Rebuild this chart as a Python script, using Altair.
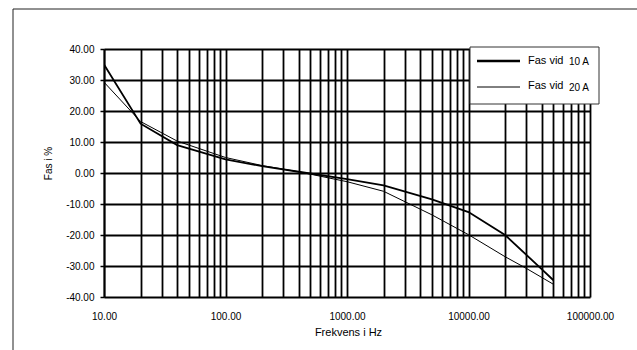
import altair as alt
import pandas as pd

# ---- data ----
freq_10A = [10, 20, 40, 100, 200, 400, 1000, 2000, 5000, 10000, 20000, 40000, 50000]
fas_10A = [35.0, 15.9, 9.0, 4.4, 2.2, 0.4, -2.0, -4.0, -8.5, -12.6, -20.0, -31.0, -34.6]
freq_20A = [10, 20, 40, 100, 200, 400, 1000, 2000, 5000, 10000, 20000, 30000, 50000]
fas_20A = [29.3, 16.6, 10.3, 5.0, 2.4, 0.4, -2.8, -5.9, -13.5, -19.9, -27.0, -30.8, -35.9]

series_names = ["Fas vid", "Fas vid"]
series_units = ["10 A", "20 A"]

y_ticks = [-40, -30, -20, -10, 0, 10, 20, 30, 40]
decades = [10, 100, 1000, 10000, 100000]
x_ticks = [m * d for d in decades[:-1] for m in range(1, 10)] + [100000]

df = pd.concat([
    pd.DataFrame({"f": freq_10A, "v": fas_10A, "s": "10 A"}),
    pd.DataFrame({"f": freq_20A, "v": fas_20A, "s": "20 A"}),
])

W, H = 486, 248
FONT = "Liberation Sans"

x_enc = alt.X("f:Q", scale=alt.Scale(type="log", domain=[10, 100000], nice=False),
              axis=alt.Axis(values=x_ticks, grid=True, gridColor="black", gridWidth=1.8,
                            gridOpacity=1, ticks=False, domain=False,
                            labelExpr="indexof([10,100,1000,10000,100000], datum.value) >= 0 ? format(datum.value, '.2f') : ''",
                            labelFont=FONT, labelFontSize=10, labelColor="black",
                            labelPadding=14, labelFlush=False, labelOverlap=False,
                            title="Frekvens i Hz", titleFont=FONT, titleFontSize=11,
                            titleFontWeight="normal", titleColor="black",
                            titleX=244, titleY=35, titleBaseline="middle"))
y_enc = alt.Y("v:Q", scale=alt.Scale(domain=[-40, 40], nice=False),
              axis=alt.Axis(values=y_ticks, grid=True, gridColor="black", gridWidth=1.8,
                            gridOpacity=1, ticks=True, tickSize=4, tickColor="black",
                            tickWidth=1.5, domain=True, domainColor="black", domainWidth=1.8,
                            labelExpr="replace(format(datum.value, '.2f'), '\u2212', '-')",
                            labelFont=FONT, labelFontSize=10,
                            labelColor="black", labelPadding=6,
                            title="Fas i %", titleFont=FONT, titleFontSize=10,
                            titleFontWeight="normal", titleColor="black",
                            titleX=-56, titleY=114, titleBaseline="middle", titleAngle=-90))

lines = alt.Chart(df).mark_line(color="black", clip=True).encode(
    x=x_enc, y=y_enc,
    strokeWidth=alt.StrokeWidth("s:N", scale=alt.Scale(domain=series_units, range=[1.8, 1.0]),
                                legend=None),
    detail="s:N",
)

one = pd.DataFrame({"a": [0]})
base = alt.Chart(one)

# outer frame (left and top edges)
frame_left = base.mark_rule(color="#222", strokeWidth=1).encode(
    x=alt.value(-91), y=alt.value(-40), y2=alt.value(301))
frame_top = base.mark_rule(color="#222", strokeWidth=1).encode(
    x=alt.value(-91), x2=alt.value(533), y=alt.value(-40))

# legend
leg_box = base.mark_rect(fill="white", stroke="#333", strokeWidth=1).encode(
    x=alt.value(366), x2=alt.value(495), y=alt.value(-2), y2=alt.value(55))
leg_l1 = base.mark_rule(color="black", strokeWidth=2.5).encode(
    x=alt.value(373), x2=alt.value(416), y=alt.value(12))
leg_l2 = base.mark_rule(color="black", strokeWidth=1).encode(
    x=alt.value(373), x2=alt.value(416), y=alt.value(38))
leg_t1 = base.mark_text(align="left", baseline="middle", font=FONT, fontSize=11,
                        color="black").encode(
    x=alt.value(424), y=alt.value(12), text=alt.value(series_names[0]))
leg_t2 = base.mark_text(align="left", baseline="middle", font=FONT, fontSize=11,
                        color="black").encode(
    x=alt.value(424), y=alt.value(37), text=alt.value(series_names[1]))
leg_u1 = base.mark_text(align="left", baseline="middle", font=FONT, fontSize=10,
                        color="black").encode(
    x=alt.value(465), y=alt.value(13), text=alt.value(series_units[0]))
leg_u2 = base.mark_text(align="left", baseline="middle", font=FONT, fontSize=10,
                        color="black").encode(
    x=alt.value(465), y=alt.value(39), text=alt.value(series_units[1]))

chart = alt.layer(lines, frame_left, frame_top, leg_box, leg_l1, leg_l2,
                  leg_t1, leg_t2, leg_u1, leg_u2).properties(
    width=W, height=H,
    autosize=alt.AutoSizeParams(type="none"),
    padding={"left": 104, "top": 49, "right": 47, "bottom": 53},
    background="white",
).configure_view(stroke=None)

chart.save("out.html", embed_options={"renderer": "svg", "actions": False})
